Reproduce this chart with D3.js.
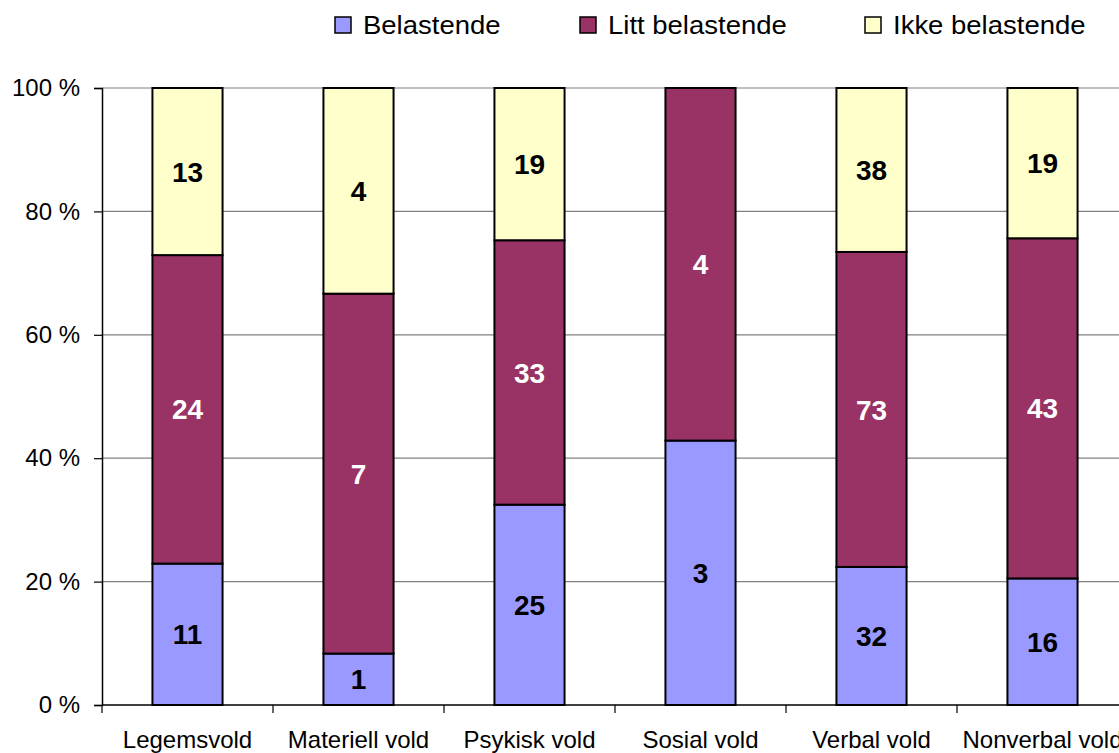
<!DOCTYPE html>
<html><head><meta charset="utf-8">
<script src="https://cdn.jsdelivr.net/npm/d3@7"></script>
<style>body{margin:0;background:#fff;} svg{display:block;font-family:"Liberation Sans",Arial,sans-serif;}</style>
</head><body>
<svg id="chart" width="1119" height="753"></svg>
<script>
const categories = ["Legemsvold","Materiell vold","Psykisk vold","Sosial vold","Verbal vold","Nonverbal vold"];
const seriesNames = ["Belastende","Litt belastende","Ikke belastende"];
const belastende = [11,1,25,3,32,16];
const littBelastende = [24,7,33,4,73,43];
const ikkeBelastende = [13,4,19,0,38,19];
const yTicks = [0,0.2,0.4,0.6,0.8,1];
const colors = ["#9999FF","#993366","#FFFFCC"];
const labelColors = ["#000","#fff","#000"];

const svg = d3.select("#chart");
const m = {left:102, top:88, right:1128, bottom:705};
const x = d3.scaleBand().domain(categories).range([m.left, m.right]).paddingInner(0.59).paddingOuter(0.295);
const y = d3.scaleLinear().domain([0,1]).range([m.bottom, m.top]);

const rows = categories.map((c,i)=>({cat:c, Belastende:belastende[i], "Litt belastende":littBelastende[i], "Ikke belastende":ikkeBelastende[i]}));
const stacked = d3.stack().keys(seriesNames).offset(d3.stackOffsetExpand)(rows);

// gridlines
svg.append("g").selectAll("line").data(yTicks.filter(t=>t>0)).join("line")
  .attr("x1", m.left).attr("x2", 1119).attr("y1", d=>y(d)).attr("y2", d=>y(d))
  .attr("stroke", "#808080").attr("stroke-width", 1.2);

// y axis
const yAxis = svg.append("g").attr("transform", `translate(${m.left},0)`)
  .call(d3.axisLeft(y).tickValues(yTicks).tickFormat(d=>Math.round(d*100)+" %").tickSize(8).tickPadding(14));
yAxis.select(".domain").attr("stroke","#000").attr("stroke-width",1.5);
yAxis.selectAll(".tick line").attr("stroke","#000").attr("stroke-width",1.2);
yAxis.selectAll("text").attr("font-size","24px").attr("fill","#000").attr("font-family","Liberation Sans, Arial, sans-serif");

// x axis
const xAxis = svg.append("g").attr("transform", `translate(0,${m.bottom})`)
  .call(d3.axisBottom(x).tickSize(0).tickPadding(26));
xAxis.select(".domain").attr("d", `M${m.left},0H${m.right}`).attr("stroke","#000").attr("stroke-width",1.5);
xAxis.selectAll("text").attr("font-size","24px").attr("fill","#000").attr("font-family","Liberation Sans, Arial, sans-serif");
// boundary ticks
const step = x.step();
svg.append("g").selectAll("line").data(d3.range(0, categories.length+1)).join("line")
  .attr("x1", i=>m.left + i*step).attr("x2", i=>m.left + i*step)
  .attr("y1", m.bottom).attr("y2", m.bottom+8).attr("stroke","#000").attr("stroke-width",1.2);

// bars
stacked.forEach((s, si) => {
  const g = svg.append("g");
  g.selectAll("rect").data(s.filter(d=>d[1]-d[0]>0)).join("rect")
    .attr("x", d=>x(d.data.cat)).attr("width", x.bandwidth())
    .attr("y", d=>y(d[1])).attr("height", d=>y(d[0])-y(d[1]))
    .attr("fill", colors[si]).attr("stroke","#000").attr("stroke-width",2);
  g.selectAll("text").data(s.filter(d=>d.data[s.key]>0)).join("text")
    .attr("x", d=>x(d.data.cat)+x.bandwidth()/2)
    .attr("y", d=>(y(d[0])+y(d[1]))/2)
    .attr("dy","0.36em").attr("text-anchor","middle")
    .attr("font-size","28px").attr("font-weight","bold").attr("fill", labelColors[si])
    .text(d=>d.data[s.key]);
});

// legend
const legendX = [335, 580, 865];
const lg = svg.append("g");
seriesNames.forEach((n,i)=>{
  lg.append("rect").attr("x", legendX[i]).attr("y", 17).attr("width", 16).attr("height", 16)
    .attr("fill", colors[i]).attr("stroke","#000").attr("stroke-width",1.5);
  lg.append("text").attr("transform", `translate(${legendX[i]+28},25) scale(1.1,1)`).attr("dy","0.36em")
    .attr("font-size","25px").attr("fill","#000").text(n);
});
</script>
</body></html>
